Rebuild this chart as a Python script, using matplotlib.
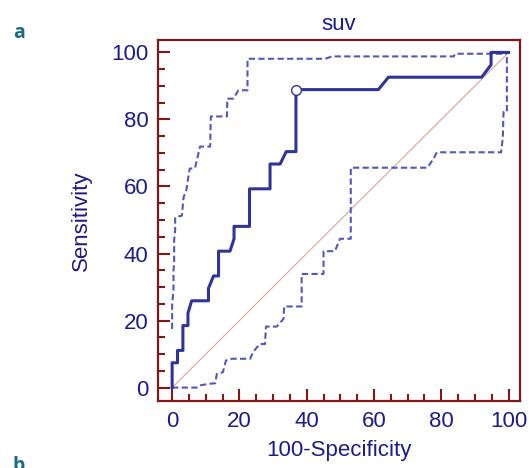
import matplotlib
matplotlib.use("Agg")
import matplotlib.pyplot as plt
from matplotlib.ticker import MultipleLocator

plt.rcParams["font.family"] = ["Liberation Sans", "DejaVu Sans"]

# ROC curve (100-specificity, sensitivity)
roc_x = [0, 0, 1.6, 1.6, 3.2, 3.2, 4.7, 4.7, 5.8, 10.8, 10.8, 12.3, 13.8, 13.8,
         17.2, 18.4, 18.4, 23.0, 23.0, 29.1, 29.1, 32.1, 33.9, 36.8, 36.8,
         61.3, 64.3, 92.0, 94.8, 94.8, 100]
roc_y = [0, 7.4, 7.4, 11.1, 11.1, 18.5, 18.5, 22.2, 25.9, 25.9, 29.6, 33.3, 33.3,
         40.7, 40.7, 44.4, 48.1, 48.1, 59.3, 59.3, 66.7, 66.7, 70.4, 70.4, 88.9,
         88.9, 92.6, 92.6, 96.3, 100, 100]

# optimal cut-off point
cut_x = [36.8]
cut_y = [88.9]

# upper confidence bound
up_x = [0, 0, 0.4, 0.4, 0.6, 0.6, 0.9, 0.9, 2.9, 3.4, 4.2, 5.2, 6.8, 8.3, 11.3,
        11.5, 16.3, 16.4, 18.2, 19.7, 22.4, 22.4, 45.5, 47.5, 83.7, 84.1, 99.5]
up_y = [17.5, 25, 29, 35, 37, 44, 47, 50.8, 51.3, 56.8, 58.8, 65.3, 65.5, 71.9,
        71.9, 80.9, 80.9, 86.2, 86.2, 88.7, 88.7, 98.1, 98.1, 98.8, 98.8, 99.6, 99.6]

# lower confidence bound
lo_x = [0, 7.3, 8.0, 10.8, 12.8, 13.3, 15.1, 16.0, 17.7, 23.2, 24.0, 25.2, 26.1,
        27.6, 27.9, 31.1, 33.1, 33.3, 38.5, 38.5, 45.0, 45.0, 48.4, 49.9, 53.1,
        53.1, 75.9, 77.7, 78.7, 97.8, 98.3, 98.5, 99.5, 99.5]
lo_y = [0, 0, 0.6, 1.1, 1.3, 4.1, 4.6, 8.1, 8.6, 8.6, 10.5, 12.0, 13.0, 13.0,
        18.2, 18.2, 20.5, 24.2, 24.2, 33.9, 33.9, 40.7, 40.7, 44.4, 44.4, 65.6,
        65.6, 68.3, 70.2, 70.2, 74.7, 82.2, 82.2, 99.6]

ticks = [0, 20, 40, 60, 80, 100]

frame_col = "#801818"
text_col = "#1c1c8a"
line_col = "#2e3499"
ci_col = "#5258bc"

fig = plt.figure(figsize=(5.29, 4.68), dpi=100)
ax = fig.add_axes([158 / 529, 1 - 401 / 468, 362 / 529, 361 / 468])

ax.plot([0, 100], [0, 100], color="#d8a697", lw=0.8, zorder=1)
ax.plot(up_x, up_y, color=ci_col, lw=1.5, ls=(0, (3, 1.6)), zorder=2)
ax.plot(lo_x, lo_y, color=ci_col, lw=1.5, ls=(0, (3, 1.6)), zorder=2)
ax.plot(roc_x, roc_y, color=line_col, lw=2.2, zorder=3)
ax.plot(cut_x, cut_y, "o", ms=7, mfc="white", mec=line_col, mew=1.0, zorder=4)

ax.set_xlim(-4.2, 103.4)
ax.set_ylim(-4.0, 103.7)
ax.set_xticks(ticks)
ax.set_yticks(ticks)
ax.xaxis.set_minor_locator(MultipleLocator(5))
ax.yaxis.set_minor_locator(MultipleLocator(5))

for s in ax.spines.values():
    s.set_color(frame_col)
    s.set_linewidth(1.6)

ax.tick_params(which="both", direction="in", color=frame_col, width=1.5,
               top=False, right=False, labelcolor=text_col, labelsize=16)
ax.tick_params(which="major", length=8.5)
ax.tick_params(which="minor", length=5)
ax.tick_params(axis="x", pad=7)
ax.tick_params(axis="y", pad=7)

ax.set_title("suv", color=text_col, fontsize=16, pad=7)
ax.set_xlabel("100-Specificity", color=text_col, fontsize=16, labelpad=6)
ax.set_ylabel("Sensitivity", color=text_col, fontsize=16, labelpad=14)

fig.text(13 / 529, 1 - 33 / 468, "a", color="#1d6a85", fontsize=14,
         fontweight="bold", family="Open Sans", va="center")
fig.text(13 / 529, 1 - 456 / 468, "b", color="#1d6a85", fontsize=14,
         fontweight="bold", family="Open Sans", va="top")

fig.savefig("out.png", dpi=100)
